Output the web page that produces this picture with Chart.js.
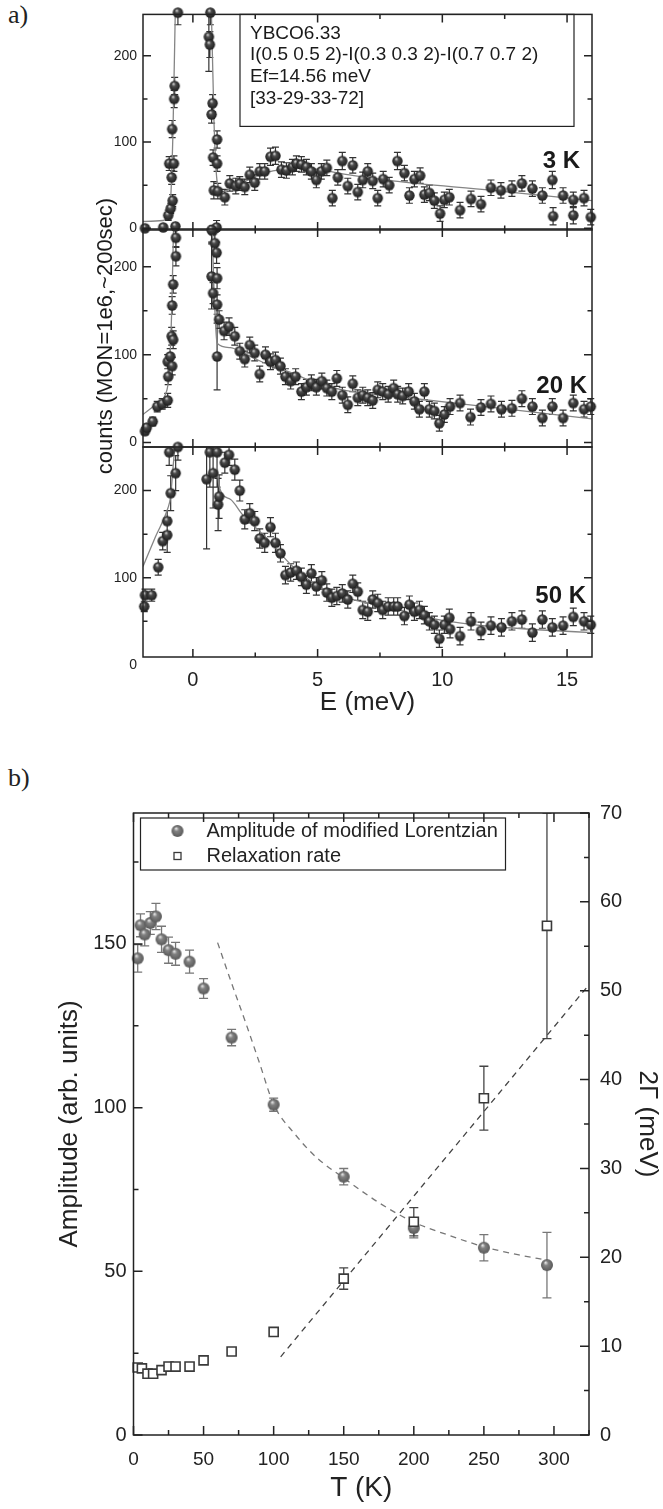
<!DOCTYPE html>
<html>
<head>
<meta charset="utf-8">
<title>YBCO6.33 spectra and temperature dependence</title>
<script src="https://cdn.jsdelivr.net/npm/chart.js@4.4.1/dist/chart.umd.min.js"></script>
<style>
  html, body { margin: 0; padding: 0; background: #fff; }
  #page { position: relative; width: 663px; height: 1509px; overflow: hidden; background: #fff; }
  #page canvas { position: absolute; left: 0; }
  .tag { position: absolute; left: 8px; font: 26px "Liberation Serif", "DejaVu Serif", serif; color: #222; }
</style>
</head>
<body>
<div id="page">
  <div class="tag" style="top:0px">a)</div>
  <div class="tag" style="top:763px">b)</div>
  <canvas id="p1" width="663" height="720" style="top:0"></canvas>
  <canvas id="p2" width="663" height="720" style="top:0"></canvas>
  <canvas id="p3" width="663" height="720" style="top:0"></canvas>
  <canvas id="pb" width="663" height="719" style="top:790px"></canvas>
</div>
<script>
// ==================== DATA (a): spectra ====================
const E_3K = [-1.92, -1.19, -0.99, -0.95, -0.89, -0.85, -0.83, -0.81, -0.76, -0.75,
  -0.73, -0.60, 0.64, 0.68, 0.70, 0.75, 0.79, 0.80, 0.81, 0.84,
  0.95, 0.97, 0.97, 1.00, 1.28, 1.48, 1.72, 1.88, 2.08, 2.28,
  2.48, 2.68, 2.88, 3.11, 3.31, 3.55, 3.75, 3.99, 4.15, 4.35,
  4.55, 4.75, 4.95, 5.15, 5.37, 5.59, 5.81, 5.99, 6.21, 6.41,
  6.61, 6.81, 7.01, 7.21, 7.41, 7.63, 7.87, 8.20, 8.48, 8.68,
  8.88, 9.11, 9.28, 9.48, 9.68, 9.91, 10.08, 10.28, 10.71, 11.15,
  11.55, 11.95, 12.35, 12.79, 13.19, 13.61, 14.01, 14.41, 14.44, 14.84,
  15.25, 15.25, 15.68, 15.95];
const CNT_3K = [0, 1, 15, 75, 23, 59, 115, 32, 75, 150,
  165, 250, 222, 213, 250, 132, 145, -3, 82, 44,
  1, 103, 75, 43, 36, 52, 49, 52, 48, 62,
  53, 66, 66, 83, 84, 68, 67, 71, 75, 74,
  71, 66, 56, 66, 70, 35, 59, 78, 49, 73,
  42, 56, 66, 55, 35, 57, 50, 78, 64, 38,
  57, 61, 39, 41, 32, 17, 33, 36, 21, 34,
  28, 47, 44, 46, 52, 46, 38, 56, 14, 38,
  33, 15, 35, 13];
const ERR_3K = [3, 3, 6, 8, 6, 8, 10, 7, 9, 10,
  10, 14, 40, 15, 14, 10, 10, 6, 9, 10,
  8, 10, 9, 9, 9, 9, 9, 8, 9, 9,
  9, 9, 9, 10, 10, 9, 9, 9, 9, 9,
  9, 9, 9, 9, 9, 9, 9, 10, 9, 9,
  9, 9, 9, 9, 9, 9, 9, 10, 9, 9,
  9, 9, 9, 9, 9, 9, 9, 9, 9, 9,
  9, 9, 9, 9, 9, 9, 9, 10, 10, 9,
  9, 10, 9, 9];
const FIT_E_3K = [-2, -1.2, -1.0, -0.9, -0.8, -0.7, -0.6, 0.65, 0.75, 0.85, 0.95, 1.1, 1.5, 2, 2.5, 3, 3.5, 4, 4.5, 5, 6, 7, 8, 12, 16];
const FIT_3K = [8, 9, 15, 30, 110, 260, 400, 400, 240, 120, 60, 42, 46, 53, 60, 65, 68, 70, 70, 68.5, 63, 59, 55, 44, 32];

const E_20K = [-1.92, -1.85, -1.61, -1.43, -1.23, -1.01, -1.01, -0.99, -0.91, -0.85,
  -0.83, -0.83, -0.79, -0.79, -0.70, -0.68, -0.68, 0.75, 0.75, 0.81,
  0.88, 0.95, 0.97, 0.97, 0.97, 1.05, 1.25, 1.45, 1.68, 1.88,
  2.08, 2.28, 2.48, 2.68, 2.91, 3.11, 3.31, 3.51, 3.71, 3.92,
  4.12, 4.35, 4.55, 4.75, 4.95, 5.17, 5.37, 5.57, 5.77, 5.99,
  6.21, 6.41, 6.61, 6.81, 7.01, 7.21, 7.41, 7.61, 7.83, 8.05,
  8.21, 8.41, 8.65, 8.88, 9.08, 9.28, 9.48, 9.68, 9.88, 10.08,
  10.31, 10.71, 11.13, 11.55, 11.95, 12.37, 12.79, 13.19, 13.61, 14.01,
  14.41, 14.84, 15.25, 15.68, 15.95];
const CNT_20K = [13, 17, 24, 41, 44, 48, 92, 75, 98, 121,
  87, 156, 117, 180, 246, 212, 233, 242, 189, 170,
  227, 216, 187, 157, 98, 140, 127, 132, 121, 104,
  95, 111, 102, 78, 100, 92, 94, 87, 75, 70,
  75, 58, 63, 68, 63, 70, 62, 58, 73, 54,
  43, 67, 51, 54, 51, 48, 60, 58, 55, 62,
  55, 53, 58, 47, 38, 58, 38, 36, 22, 32,
  41, 45, 29, 40, 44, 38, 39, 50, 41, 28,
  41, 28, 45, 38, 41];
const ERR_20K = [4, 4, 5, 6, 6, 8, 8, 9, 9, 10,
  10, 10, 10, 10, 12, 11, 11, 14, 37, 12,
  12, 12, 12, 11, 38, 10, 10, 10, 10, 9,
  9, 9, 9, 9, 9, 9, 9, 9, 9, 9,
  9, 9, 9, 9, 9, 9, 9, 9, 9, 9,
  9, 9, 9, 9, 9, 9, 9, 9, 9, 9,
  9, 9, 9, 9, 9, 9, 9, 9, 9, 9,
  9, 9, 9, 9, 9, 9, 9, 9, 9, 9,
  9, 9, 9, 9, 9];
const FIT_E_20K = [-2, -1.5, -1.1, -0.95, -0.85, -0.75, -0.65, 0.7, 0.8, 0.9, 0.97, 1.5, 2, 3, 4, 5, 6, 7, 8, 12, 16];
const FIT_20K = [32, 43, 55, 80, 150, 280, 400, 400, 220, 140, 113, 108, 102, 89, 79, 67, 60, 56, 53, 40, 27];

const E_50K = [-1.95, -1.92, -1.65, -1.39, -1.21, -1.03, -1.03, -0.95, -0.89, -0.69,
  -0.60, 0.55, 0.68, 0.81, 0.97, 1.01, 1.05, 1.28, 1.45, 1.68,
  1.88, 2.08, 2.28, 2.48, 2.68, 2.88, 3.11, 3.31, 3.51, 3.71,
  3.92, 4.15, 4.35, 4.55, 4.75, 4.95, 5.17, 5.37, 5.57, 5.77,
  5.99, 6.21, 6.41, 6.61, 6.81, 7.01, 7.21, 7.41, 7.61, 7.83,
  8.05, 8.21, 8.48, 8.68, 8.88, 9.08, 9.28, 9.48, 9.68, 9.88,
  10.08, 10.28, 10.31, 10.71, 11.15, 11.55, 11.95, 12.37, 12.79, 13.19,
  13.61, 14.01, 14.41, 14.84, 15.25, 15.68, 15.95];
const CNT_50K = [67, 80, 80, 112, 142, 149, 165, 244, 197, 220,
  250, 213, 244, 220, 244, 184, 193, 232, 241, 224,
  200, 167, 174, 165, 145, 140, 158, 140, 128, 103,
  106, 108, 101, 92, 105, 90, 97, 83, 77, 79,
  82, 75, 93, 84, 63, 61, 75, 71, 63, 67,
  67, 67, 56, 69, 61, 63, 57, 50, 46, 30,
  46, 54, 41, 33, 50, 39, 45, 43, 50, 52,
  37, 52, 43, 45, 55, 50, 46];
const ERR_50K = [6, 7, 7, 9, 10, 20, 12, 15, 20, 20,
  15, 80, 40, 40, 40, 30, 25, 12, 12, 12,
  12, 11, 11, 11, 11, 11, 11, 11, 10, 10,
  10, 10, 10, 10, 10, 10, 10, 10, 10, 10,
  10, 10, 10, 10, 10, 10, 10, 10, 10, 10,
  10, 10, 10, 10, 10, 10, 10, 10, 10, 10,
  10, 10, 10, 10, 10, 10, 10, 10, 10, 10,
  10, 10, 10, 10, 10, 10, 10];
const FIT_E_50K = [-2, -1.5, -1.0, -0.9, -0.8, -0.7, -0.6, 0.75, 0.85, 0.95, 1.05, 1.5, 2, 2.5, 3, 3.5, 4, 4.5, 5, 5.5, 6, 7, 8, 9, 10, 11, 12, 14, 16];
const FIT_50K = [113, 147, 180, 192, 225, 270, 400, 400, 290, 240, 205, 190, 172, 158, 144, 128, 113, 101, 90, 83, 78, 71, 65, 57, 51, 47, 44, 40, 37];

const COUNT_TICKS = [0, 100, 200];
const COUNT_MINOR = [50, 150];
const E_TICKS = [0, 5, 10, 15];
const E_MINOR = [2.5, 7.5, 12.5];
const TEMP_LABELS = ['3 K', '20 K', '50 K'];
const INFO_LINES = ['YBCO6.33', 'I(0.5 0.5 2)-I(0.3 0.3 2)-I(0.7 0.7 2)', 'Ef=14.56 meV', '[33-29-33-72]'];

// ==================== DATA (b): temperature dependence ====================
const T_AMP = [3, 5, 8, 12, 16, 20, 25, 30, 40, 50, 70, 100, 150, 200, 250, 295];
const AMP = [145.6, 155.7, 152.9, 156.4, 158.4, 151.4, 148.1, 147.0, 144.6, 136.4, 121.4, 100.9, 78.9, 63.2, 57.2, 51.9];
const AMP_ERR = [4.2, 3.5, 3.5, 3.5, 4.0, 4.0, 4.0, 3.5, 3.5, 3.0, 2.5, 2.0, 2.5, 3.0, 4.0, 10.0];
const T_RATE = [3, 6, 10, 14, 20, 25, 30, 40, 50, 70, 100, 150, 200, 250, 295];
const RATE = [7.6, 7.5, 6.9, 6.9, 7.3, 7.7, 7.7, 7.7, 8.4, 9.4, 11.6, 17.6, 24.0, 37.9, 57.3];
const RATE_ERR = [0, 0, 0, 0, 0, 0, 0, 0, 0, 0, 0, 1.2, 1.6, 3.6, 12.7];
const T_AMP_FIT = [60, 70, 80, 90, 100, 115, 130, 150, 175, 200, 225, 250, 275, 295];
const AMP_FIT = [150.4, 138, 126, 113.5, 101, 92, 85, 78.5, 71, 65, 61, 57.5, 55, 53.4];
const T_RATE_FIT = [105, 323];
const RATE_FIT = [8.8, 50.3];

const T_TICKS = [0, 50, 100, 150, 200, 250, 300];
const T_MINOR = [25, 75, 125, 175, 225, 275, 325];
const AMP_TICKS = [0, 50, 100, 150];
const AMP_MINOR = [25, 75, 125, 175];
const RATE_TICKS = [0, 10, 20, 30, 40, 50, 60, 70];
const RATE_MINOR = [5, 15, 25, 35, 45, 55, 65];
const LEGEND_B = ['Amplitude of modified Lorentzian', 'Relaxation rate'];

// ==================== STYLE ====================
const FONT = '"Liberation Sans", Arial, Helvetica, sans-serif';
Chart.defaults.font.family = FONT;
Chart.defaults.color = '#222';

const pts = (xs, ys) => xs.map((x, i) => ({ x: x, y: ys[i] }));
const fixTicks = list => s => { s.ticks = list.map(v => ({ value: v })); };

function makeBall(r, hi, mid, edge) {
  const c = document.createElement('canvas');
  const s = Math.ceil(2 * r + 2);
  c.width = c.height = s;
  const g = c.getContext('2d');
  const cx = s / 2, cy = s / 2;
  const grad = g.createRadialGradient(cx - r * 0.25, cy - r * 0.45, r * 0.05, cx, cy, r);
  grad.addColorStop(0, hi);
  grad.addColorStop(0.35, mid);
  grad.addColorStop(1, edge);
  g.fillStyle = grad;
  g.beginPath();
  g.arc(cx, cy, r, 0, Math.PI * 2);
  g.fill();
  return c;
}
const BALL_A = makeBall(5.2, '#d8d8d8', '#4a4a4a', '#1e1e1e');
const BALL_B = makeBall(6, '#e8e8e8', '#828282', '#595959');

// ==================== PLUGINS ====================
// frame round the plot area with inward major/minor ticks on all four sides
const frameTicks = {
  id: 'frameTicks',
  afterDraw(chart, args, o) {
    const { ctx, chartArea: a, scales } = chart;
    const xs = scales.x, yl = scales[o.left], yr = scales[o.right || o.left];
    ctx.save();
    ctx.strokeStyle = '#222';
    ctx.lineWidth = o.width;
    ctx.strokeRect(a.left, a.top, a.right - a.left, a.bottom - a.top);
    ctx.beginPath();
    [[o.xMajor, o.major], [o.xMinor, o.minor]].forEach(([vals, len]) => vals.forEach(v => {
      if (v < xs.min || v > xs.max) return;
      const p = xs.getPixelForValue(v);
      ctx.moveTo(p, a.bottom); ctx.lineTo(p, a.bottom - len);
      ctx.moveTo(p, a.top); ctx.lineTo(p, a.top + len);
    }));
    [[o.yMajor, o.major], [o.yMinor, o.minor]].forEach(([vals, len]) => vals.forEach(v => {
      if (v < yl.min || v > yl.max) return;
      const p = yl.getPixelForValue(v);
      ctx.moveTo(a.left, p); ctx.lineTo(a.left + len, p);
    }));
    [[o.rMajor || o.yMajor, o.major], [o.rMinor || o.yMinor, o.minor]].forEach(([vals, len]) => vals.forEach(v => {
      if (v < yr.min || v > yr.max) return;
      const p = yr.getPixelForValue(v);
      ctx.moveTo(a.right, p); ctx.lineTo(a.right - len, p);
    }));
    ctx.stroke();
    ctx.restore();
  }
};

// vertical error bars, taken from dataset.errors
const errorBars = {
  id: 'errorBars',
  beforeDatasetsDraw(chart) {
    const { ctx, chartArea: a } = chart;
    ctx.save();
    ctx.beginPath();
    ctx.rect(a.left - 6, a.top, a.right - a.left + 12, a.bottom - a.top);
    ctx.clip();
    chart.data.datasets.forEach((ds, i) => {
      if (!ds.errors) return;
      const meta = chart.getDatasetMeta(i);
      const ys = chart.scales[meta.yAxisID];
      const w = ds.errorCap;
      ctx.strokeStyle = ds.errorColor;
      ctx.lineWidth = ds.errorWidth;
      ctx.beginPath();
      meta.data.forEach((pt, j) => {
        const e = ds.errors[j];
        if (!e) return;
        const v = ds.data[j].y;
        const t = ys.getPixelForValue(v + e), b = ys.getPixelForValue(v - e);
        ctx.moveTo(pt.x, t); ctx.lineTo(pt.x, b);
        ctx.moveTo(pt.x - w, t); ctx.lineTo(pt.x + w, t);
        ctx.moveTo(pt.x - w, b); ctx.lineTo(pt.x + w, b);
      });
      ctx.stroke();
    });
    ctx.restore();
  }
};

// temperature label, info box and shared axis title of part a
const panelNotes = {
  id: 'panelNotes',
  afterDraw(chart, args, o) {
    const { ctx, chartArea: a } = chart;
    ctx.save();
    ctx.fillStyle = '#1a1a1a';
    if (o.temp) {
      ctx.font = 'bold 24px ' + FONT;
      ctx.textAlign = 'right';
      ctx.textBaseline = 'alphabetic';
      ctx.fillText(o.temp.text, a.right - o.temp.dx, a.top + o.temp.dy);
    }
    if (o.info) {
      const b = o.info;
      ctx.strokeStyle = '#222';
      ctx.lineWidth = 1.2;
      ctx.strokeRect(a.left + b.dx, a.top, b.w, b.h);
      ctx.font = b.size + 'px ' + FONT;
      ctx.textAlign = 'left';
      ctx.textBaseline = 'middle';
      b.lines.forEach((t, i) => ctx.fillText(t, a.left + b.dx + b.pad, a.top + b.first + i * b.gap));
    }
    if (o.side) {
      ctx.translate(o.side.x, o.side.y);
      ctx.rotate(-Math.PI / 2);
      ctx.font = o.side.size + 'px ' + FONT;
      ctx.textAlign = 'center';
      ctx.textBaseline = 'middle';
      ctx.fillText(o.side.text, 0, 0);
    }
    ctx.restore();
  }
};

// boxed legend inside the plot area of part b
const boxLegend = {
  id: 'boxLegend',
  afterDraw(chart, args, o) {
    const { ctx, chartArea: a } = chart;
    const x0 = a.left + o.dx, y0 = a.top + o.dy;
    ctx.save();
    ctx.strokeStyle = '#222';
    ctx.lineWidth = 1.2;
    ctx.strokeRect(x0, y0, o.w, o.h);
    ctx.font = o.size + 'px ' + FONT;
    ctx.fillStyle = '#222';
    ctx.textBaseline = 'middle';
    o.items.forEach((idx, k) => {
      const ds = chart.data.datasets[idx];
      const my = y0 + o.rows[k];
      const mx = x0 + o.markX;
      if (ds.pointStyle instanceof HTMLCanvasElement) {
        ctx.drawImage(ds.pointStyle, mx - ds.pointStyle.width / 2, my - ds.pointStyle.height / 2);
      } else {
        ctx.fillStyle = '#fff';
        ctx.fillRect(mx - 3.5, my - 3.5, 7, 7);
        ctx.strokeStyle = ds.borderColor;
        ctx.lineWidth = 1.3;
        ctx.strokeRect(mx - 3.5, my - 3.5, 7, 7);
        ctx.fillStyle = '#222';
      }
      ctx.fillText(ds.label, x0 + o.textX, my);
    });
    ctx.restore();
  }
};

// ==================== PART a ====================
const PANELS = [
  { id: 'p1', E: E_3K, c: CNT_3K, err: ERR_3K, fx: FIT_E_3K, fy: FIT_3K, min: -2, max: 248, top: 13, bottom: 490, showX: false,
    notes: { temp: { text: TEMP_LABELS[0], dx: 12, dy: 154 },
             info: { lines: INFO_LINES, dx: 97, w: 334, h: 112, pad: 10, first: 19, gap: 21.7, size: 19 } } },
  { id: 'p2', E: E_20K, c: CNT_20K, err: ERR_20K, fx: FIT_E_20K, fy: FIT_20K, min: -5, max: 243, top: 229, bottom: 273, showX: false,
    notes: { temp: { text: TEMP_LABELS[1], dx: 5, dy: 164 },
             side: { text: 'counts (MON=1e6,~200sec)', x: 106, y: 336, size: 22 } } },
  { id: 'p3', E: E_50K, c: CNT_50K, err: ERR_50K, fx: FIT_E_50K, fy: FIT_50K, min: 9, max: 250, top: 447, bottom: 0, showX: true,
    notes: { temp: { text: TEMP_LABELS[2], dx: 6, dy: 156 } } }
];

function spectrumPanel(p) {
  return new Chart(document.getElementById(p.id), {
    type: 'scatter',
    data: {
      datasets: [
        { data: pts(p.E, p.c), errors: p.err, errorColor: '#333', errorWidth: 1.2, errorCap: 3.5,
          pointStyle: BALL_A, pointRadius: 5, order: 0, clip: 8 },
        { type: 'line', data: pts(p.fx, p.fy), borderColor: '#858585', borderWidth: 1.3,
          pointRadius: 0, cubicInterpolationMode: 'monotone', order: 1, clip: 0 }
      ]
    },
    options: {
      responsive: false, animation: false, events: [],
      layout: { padding: { left: 95, right: 71, top: p.top, bottom: p.bottom } },
      plugins: {
        legend: { display: false }, tooltip: { enabled: false },
        frameTicks: { left: 'y', width: 1.5, major: 8, minor: 4.5, xMajor: E_TICKS, xMinor: E_MINOR, yMajor: COUNT_TICKS, yMinor: COUNT_MINOR },
        panelNotes: p.notes
      },
      scales: {
        x: {
          type: 'linear', min: -2, max: 16, display: p.showX,
          afterBuildTicks: fixTicks(E_TICKS),
          afterFit: s => { s.height = p.showX ? 63 : 0; },
          grid: { display: false, drawTicks: false }, border: { display: false },
          ticks: { font: { size: 20 }, padding: 11, maxRotation: 0, autoSkip: false },
          title: { display: true, text: 'E (meV)', font: { size: 26 }, padding: { top: 0, bottom: 2 } }
        },
        y: {
          min: p.min, max: p.max,
          afterBuildTicks: fixTicks(COUNT_TICKS),
          afterFit: s => { s.width = 48; },
          grid: { display: false, drawTicks: false }, border: { display: false },
          ticks: { font: { size: 14 }, padding: 6, autoSkip: false }
        }
      }
    },
    plugins: [errorBars, frameTicks, panelNotes]
  });
}
PANELS.forEach(spectrumPanel);

// ==================== PART b ====================
new Chart(document.getElementById('pb'), {
  type: 'scatter',
  data: {
    datasets: [
      { label: LEGEND_B[0], data: pts(T_AMP, AMP), yAxisID: 'y', errors: AMP_ERR, errorColor: '#777', errorWidth: 1.3, errorCap: 4.5,
        pointStyle: BALL_B, pointRadius: 6, order: 1, clip: 8 },
      { label: LEGEND_B[1], data: pts(T_RATE, RATE), yAxisID: 'y2', errors: RATE_ERR, errorColor: '#444', errorWidth: 1.3, errorCap: 4.5,
        pointStyle: 'rect', pointRadius: 6.4, backgroundColor: '#fff', borderColor: '#3a3a3a', borderWidth: 1.6, order: 0, clip: 8 },
      { type: 'line', data: pts(T_AMP_FIT, AMP_FIT), yAxisID: 'y', borderColor: '#777', borderWidth: 1.3, borderDash: [6, 5],
        pointRadius: 0, cubicInterpolationMode: 'monotone', order: 2, clip: 0 },
      { type: 'line', data: pts(T_RATE_FIT, RATE_FIT), yAxisID: 'y2', borderColor: '#444', borderWidth: 1.3, borderDash: [6, 5],
        pointRadius: 0, order: 2, clip: 0 }
    ]
  },
  options: {
    responsive: false, animation: false, events: [],
    layout: { padding: { left: 50, right: 0, top: 16, bottom: 0 } },
    plugins: {
      legend: { display: false }, tooltip: { enabled: false },
      frameTicks: { left: 'y', right: 'y2', width: 1.5, major: 9, minor: 5, xMajor: T_TICKS, xMinor: T_MINOR,
                    yMajor: AMP_TICKS, yMinor: AMP_MINOR, rMajor: RATE_TICKS, rMinor: RATE_MINOR },
      boxLegend: { items: [0, 1], dx: 7, dy: 5, w: 365, h: 52, markX: 37, textX: 66, rows: [13, 38], size: 20 }
    },
    scales: {
      x: {
        type: 'linear', min: 0, max: 325,
        afterBuildTicks: fixTicks(T_TICKS),
        afterFit: s => { s.height = 74; },
        grid: { display: false, drawTicks: false }, border: { display: false },
        ticks: { font: { size: 19 }, padding: 13, maxRotation: 0, autoSkip: false },
        title: { display: true, text: 'T (K)', font: { size: 28 }, padding: { top: 0, bottom: 4 } }
      },
      y: {
        position: 'left', min: 0, max: 190,
        afterBuildTicks: fixTicks(AMP_TICKS),
        afterFit: s => { s.width = 83.5; },
        grid: { display: false, drawTicks: false }, border: { display: false },
        ticks: { font: { size: 20 }, padding: 7, autoSkip: false },
        title: { display: true, text: 'Amplitude (arb. units)', font: { size: 26 }, padding: { top: 4, bottom: 0 } }
      },
      y2: {
        position: 'right', min: 0, max: 70,
        afterBuildTicks: fixTicks(RATE_TICKS),
        afterFit: s => { s.width = 74; },
        grid: { display: false, drawTicks: false }, border: { display: false },
        ticks: { font: { size: 20 }, padding: 11, autoSkip: false },
        title: { display: true, text: '2Γ (meV)', font: { size: 26 }, padding: { top: 0.5, bottom: 0 } }
      }
    }
  },
  plugins: [errorBars, frameTicks, boxLegend]
});
</script>
</body>
</html>
